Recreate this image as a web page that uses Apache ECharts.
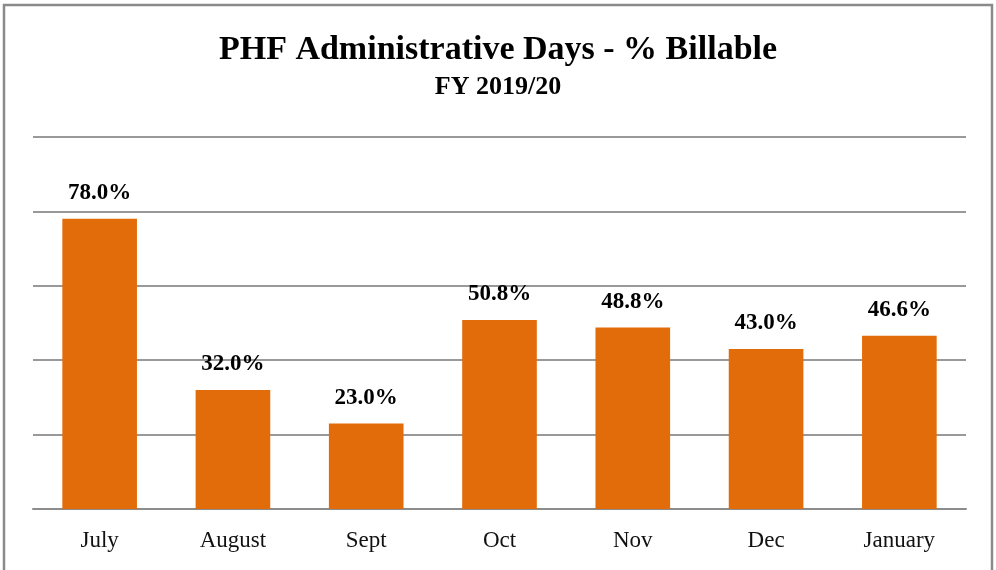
<!DOCTYPE html>
<html>
<head>
<meta charset="utf-8">
<script src="https://cdn.jsdelivr.net/npm/echarts@6/dist/echarts.min.js"></script>
<style>
html,body{margin:0;padding:0;background:#fff;}
#main{width:996px;height:570px;}
</style>
</head>
<body>
<div id="main"></div>
<script>
var months = ['July', 'August', 'Sept', 'Oct', 'Nov', 'Dec', 'January'];
var billable = [78.0, 32.0, 23.0, 50.8, 48.8, 43.0, 46.6];

var serif = "'Liberation Serif', 'DejaVu Serif', serif";
var myChart = echarts.init(document.getElementById('main'));
var option = {
    backgroundColor: '#fff',
    animation: false,
    title: {
        text: 'PHF Administrative Days - % Billable',
        subtext: 'FY 2019/20',
        left: 'center',
        top: 28,
        itemGap: 7,
        textStyle: {fontFamily: serif, fontSize: 34, fontWeight: 'bold', color: '#000'},
        subtextStyle: {fontFamily: serif, fontSize: 26, fontWeight: 'bold', color: '#000'}
    },
    graphic: [{
        type: 'rect',
        shape: {x: 4, y: 5, width: 988, height: 600},
        style: {fill: 'none', stroke: '#8a8a8a', lineWidth: 2.5},
        silent: true
    }],
    grid: {left: 33, right: 30, top: 137, bottom: 61},
    xAxis: {
        type: 'category',
        data: months,
        axisLine: {lineStyle: {color: '#8c8c8c', width: 2}},
        axisTick: {show: false},
        axisLabel: {fontFamily: serif, fontSize: 23, color: '#111', margin: 20}
    },
    yAxis: {
        type: 'value',
        min: 0,
        max: 100,
        interval: 20,
        axisLabel: {show: false},
        axisLine: {show: false},
        axisTick: {show: false},
        splitLine: {lineStyle: {color: '#999', width: 2}}
    },
    series: [{
        type: 'bar',
        data: billable,
        barWidth: '56%',
        itemStyle: {color: '#E36C0A'},
        label: {
            show: true,
            position: 'top',
            distance: 14,
            fontFamily: serif,
            fontSize: 23,
            fontWeight: 'bold',
            color: '#000',
            formatter: function (p) { return p.value.toFixed(1) + '%'; }
        }
    }]
};
myChart.setOption(option);
</script>
</body>
</html>
